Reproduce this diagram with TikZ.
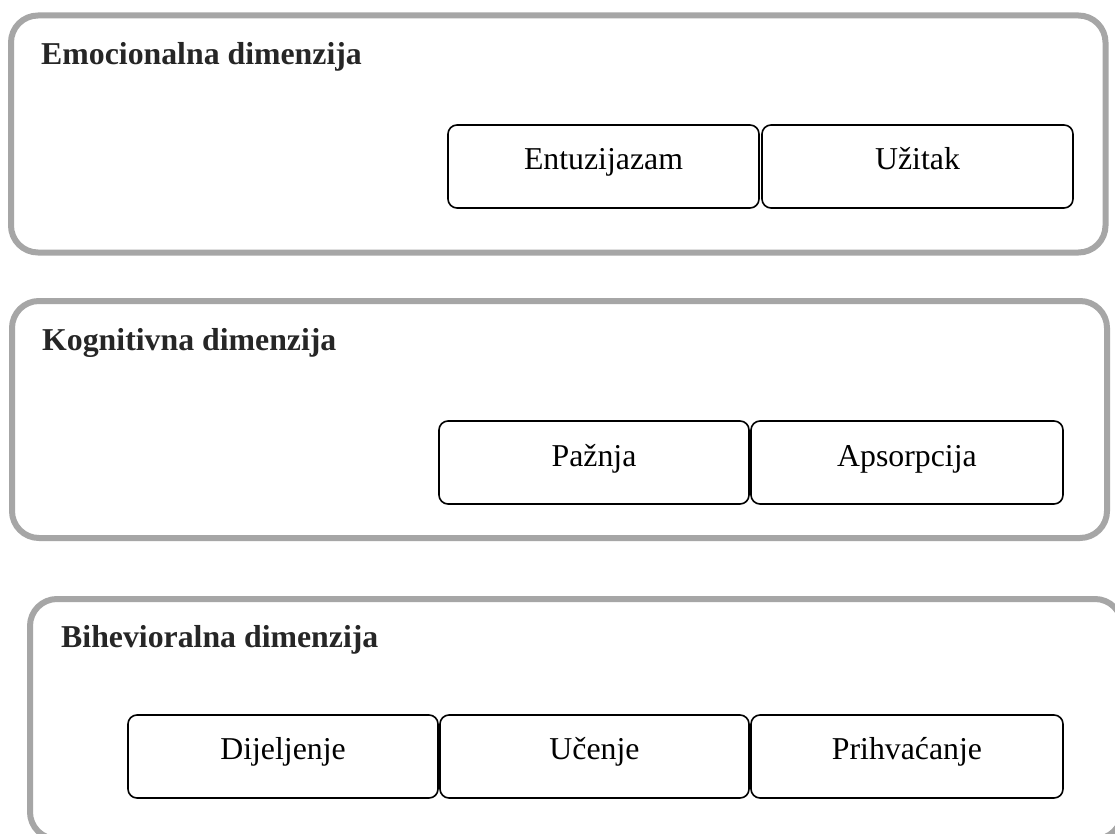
\documentclass[tikz,border=0pt]{standalone}
\usepackage{fontspec}
\setmainfont{Liberation Serif}
\usetikzlibrary{calc}
\definecolor{framegray}{HTML}{A6A6A6}
\definecolor{titlegray}{HTML}{262626}
\begin{document}
\begin{tikzpicture}[x=1pt,y=-1pt,
  outerbox/.style={draw=framegray, line width=6pt, rounded corners=27pt, rectangle, anchor=north west, inner sep=0pt, outer sep=0pt},
  innerbox/.style={draw=black, line width=1.6pt, rounded corners=9pt, rectangle, anchor=north west, inner sep=0pt, outer sep=0pt, minimum height=83pt},
  titletext/.style={anchor=base west, inner sep=0pt, text=titlegray, font=\fontsize{31.8}{38}\selectfont\bfseries},
  itemtext/.style={anchor=base, inner sep=0pt, text=black, font=\fontsize{31.8}{38}\selectfont}
]
\clip (0,0) rectangle (1115,834);
\fill[white] (0,0) rectangle (1115,834);

% Emocionalna dimenzija
\node[outerbox, minimum width=1094.5pt, minimum height=237pt] (g1) at (11,15.5) {};
\node[titletext] (t1) at (41,65) {Emocionalna dimenzija};
\node[innerbox, minimum width=311pt] (e1) at (448,125) {};
\node[innerbox, minimum width=311pt] (e2) at (762,125) {};
\node[itemtext] (e1t) at ($(e1.north)+(0,45)$) {Entuzijazam};
\node[itemtext] (e2t) at ($(e2.north)+(0,45)$) {Užitak};

% Kognitivna dimenzija
\node[outerbox, minimum width=1095pt, minimum height=237pt] (g2) at (12,301) {};
\node[titletext] (t2) at (42,350) {Kognitivna dimenzija};
\node[innerbox, minimum width=310pt] (k1) at (439,421) {};
\node[innerbox, minimum width=312pt] (k2) at (751,421) {};
\node[itemtext] (k1t) at ($(k1.north)+(0,45)$) {Pažnja};
\node[itemtext] (k2t) at ($(k2.north)+(0,45)$) {Apsorpcija};

% Bihevioralna dimenzija
\node[outerbox, minimum width=1092pt, minimum height=240pt] (g3) at (30,599) {};
\node[titletext] (t3) at (61,647) {Bihevioralna dimenzija};
\node[innerbox, minimum width=310pt] (b1) at (128,715) {};
\node[innerbox, minimum width=309pt] (b2) at (440,715) {};
\node[innerbox, minimum width=312pt] (b3) at (751,715) {};
\node[itemtext] (b1t) at ($(b1.north)+(0,44)$) {Dijeljenje};
\node[itemtext] (b2t) at ($(b2.north)+(0,44)$) {Učenje};
\node[itemtext] (b3t) at ($(b3.north)+(0,44)$) {Prihvaćanje};
\end{tikzpicture}
\end{document}
